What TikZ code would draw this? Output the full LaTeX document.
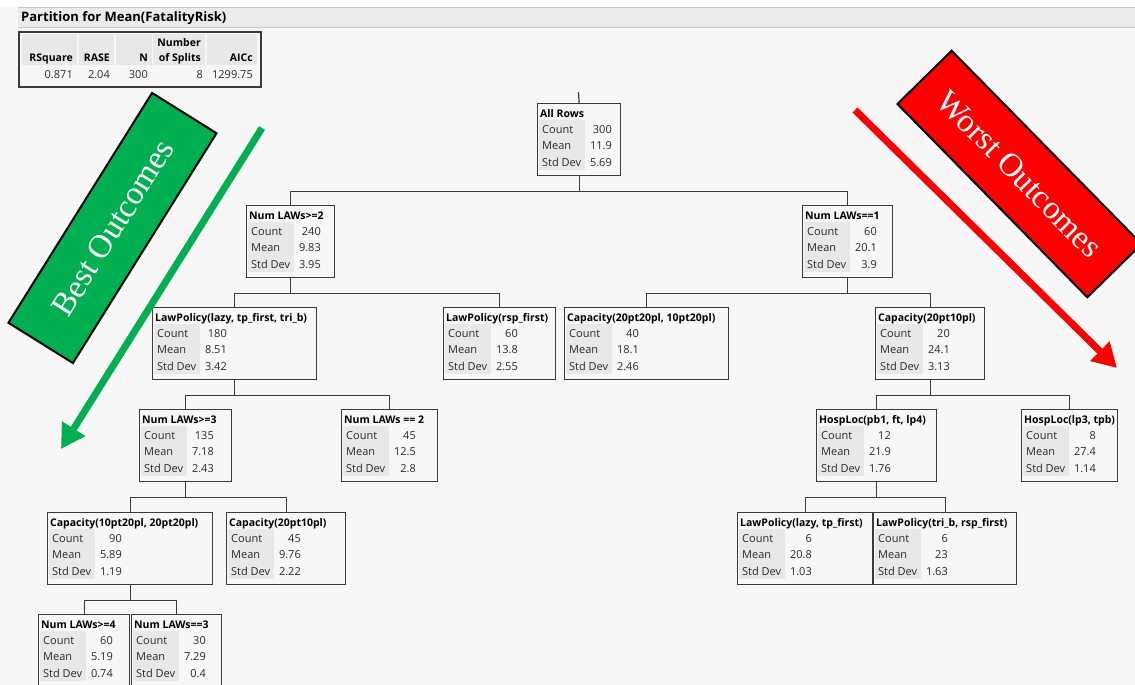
\documentclass[tikz,border=0pt]{standalone}
\usepackage{fontspec}
\setmainfont{Open Sans}
\newfontfamily\bannerfont{Liberation Serif}
\usetikzlibrary{arrows.meta}
\definecolor{bggray}{HTML}{F7F7F7}
\definecolor{cellgray}{HTML}{E8E8E8}
\definecolor{bargray}{HTML}{EBEBEB}
\definecolor{barline}{HTML}{C8C8C8}
\definecolor{boxline}{HTML}{3A3A3A}
\definecolor{textgray}{HTML}{2A2A2A}
\definecolor{bestgreen}{HTML}{00B050}
\definecolor{worstred}{HTML}{FF0000}

\tikzset{
  splitbox/.style={draw=boxline, line width=1.2pt, fill=bggray, anchor=north west,
    minimum height=72pt, inner sep=0pt},
  headtext/.style={font=\fontsize{10.5}{12}\selectfont\bfseries, anchor=base west, inner sep=0pt},
  rowtext/.style={font=\fontsize{11}{12}\selectfont, anchor=base west, inner sep=0pt, text=textgray},
  valtext/.style={rowtext, anchor=base east},
  tabhead/.style={headtext, anchor=base east},
  link/.style={draw=boxline, line width=1.2pt},
  banner/.style={draw=black, line width=2pt, text=white, inner sep=0pt,
    font=\bannerfont\fontsize{33}{33}\selectfont, minimum width=271pt, minimum height=76pt},
  bigarrow/.style={line width=7pt, -{Triangle[length=24pt,width=26pt]}},
}

% one box of the partition tree: name, x, y, width, split, count, mean, std dev
\newcommand\splitnode[8]{%
  \node[splitbox, minimum width=#4pt] (#1) at (#2,#3) {};
  \fill[cellgray] ([shift={(2,17)}]#1.north west) rectangle ++(46,50);
  \node[headtext] (#1-head) at ([shift={(3,14)}]#1.north west) {#5};
  \node[rowtext] (#1-cl) at ([shift={(5,30)}]#1.north west) {Count};
  \node[rowtext] (#1-ml) at ([shift={(5,46.5)}]#1.north west) {Mean};
  \node[rowtext] (#1-sl) at ([shift={(5,63)}]#1.north west) {Std Dev};
  \node[valtext] (#1-cv) at ([shift={(75,30)}]#1.north west) {#6};
  \node[valtext] (#1-mv) at ([shift={(75,46.5)}]#1.north west) {#7};
  \node[valtext] (#1-sv) at ([shift={(75,63)}]#1.north west) {#8};
}

\begin{document}
\begin{tikzpicture}[x=1pt, y=-1pt]
  \useasboundingbox (0,0) rectangle (1135,685);
  \fill[bggray] (0,0) rectangle (1135,685);
  \fill[white] (0,0) rectangle (1135,7);

  % title bar
  \fill[bargray] (18,7) rectangle (1135,27);
  \draw[barline] (18,7) -- (1135,7) (18,27) -- (1135,27);
  \node[headtext, font=\fontsize{13}{14}\selectfont\bfseries] (title) at (21,22) {Partition for Mean(FatalityRisk)};

  % summary table
  \draw[boxline, line width=1.2pt] (19,32) rectangle (261,87);
  \foreach \xl/\xr in {22/77, 79/114, 116/152, 153/205, 207/257}
    \fill[cellgray] (\xl,34) rectangle (\xr,65);
  \node[tabhead] (hnum) at (201,47) {Number};
  \node[tabhead] (hrsq) at (73,62) {RSquare};
  \node[tabhead] (hrase) at (110,62) {RASE};
  \node[tabhead] (hn) at (148,62) {N};
  \node[tabhead] (hsplit) at (201,62) {of Splits};
  \node[tabhead] (haicc) at (253,62) {AICc};
  \node[valtext] (vrsq) at (73,78) {0.871};
  \node[valtext] (vrase) at (110,78) {2.04};
  \node[valtext] (vn) at (148,78) {300};
  \node[valtext] (vsplit) at (203,78) {8};
  \node[valtext] (vaicc) at (253,78) {1299.75};

  % tree
  \splitnode{allrows}{537}{103}{83}{All Rows}{300}{11.9}{5.69}
  \splitnode{lawsge2}{246}{205}{88}{Num LAWs>=2}{240}{9.83}{3.95}
  \splitnode{lawseq1}{802}{205}{90}{Num LAWs==1}{60}{20.1}{3.9}
  \splitnode{polazy}{152}{307}{164}{LawPolicy(lazy, tp\_first, tri\_b)}{180}{8.51}{3.42}
  \splitnode{porsp}{443}{307}{112}{LawPolicy(rsp\_first)}{60}{13.8}{2.55}
  \splitnode{capmix}{564}{307}{164}{Capacity(20pt20pl, 10pt20pl)}{40}{18.1}{2.46}
  \splitnode{capright}{875}{307}{109}{Capacity(20pt10pl)}{20}{24.1}{3.13}
  \splitnode{lawsge3}{139}{409}{92}{Num LAWs>=3}{135}{7.18}{2.43}
  \splitnode{lawseq2}{341}{409}{96}{Num LAWs == 2}{45}{12.5}{2.8}
  \splitnode{hospa}{816}{409}{120}{HospLoc(pb1, ft, lp4)}{12}{21.9}{1.76}
  \splitnode{hospb}{1021}{409}{96}{HospLoc(lp3, tpb)}{8}{27.4}{1.14}
  \splitnode{capleft}{47}{512}{165}{Capacity(10pt20pl, 20pt20pl)}{90}{5.89}{1.19}
  \splitnode{capsmall}{226}{512}{119}{Capacity(20pt10pl)}{45}{9.76}{2.22}
  \splitnode{polazytp}{737}{512}{135}{LawPolicy(lazy, tp\_first)}{6}{20.8}{1.03}
  \splitnode{potrib}{873}{512}{143}{LawPolicy(tri\_b, rsp\_first)}{6}{23}{1.63}
  \splitnode{lawsge4}{38}{614}{91}{Num LAWs>=4}{60}{5.19}{0.74}
  \splitnode{lawseq3}{131}{614}{90}{Num LAWs==3}{30}{7.29}{0.4}

  \coordinate (rootstub) at (578.5,92);
  \draw[link] (rootstub) -- (allrows.north);
  \foreach \p/\c in {allrows/lawsge2, allrows/lawseq1, lawsge2/polazy, lawsge2/porsp,
      lawseq1/capmix, lawseq1/capright, polazy/lawsge3, polazy/lawseq2,
      capright/hospa, capright/hospb, lawsge3/capleft, lawsge3/capsmall,
      hospa/polazytp, hospa/potrib, capleft/lawsge4, capleft/lawseq3}
    \draw[link] (\p.south) -- ++(0,15) -| (\c.north);

  % outcome banners and arrows
  \node[banner, fill=bestgreen, rotate=58] (best) at (112.5,228) {Best Outcomes};
  \node[banner, fill=worstred, rotate=-45.5] (worst) at (1019.5,174) {Worst Outcomes};
  \coordinate (beststart) at (262,128);
  \coordinate (bestend) at (61,449);
  \coordinate (worststart) at (855,110);
  \coordinate (worstend) at (1117,368);
  \draw[bigarrow, bestgreen] (beststart) -- (bestend);
  \draw[bigarrow, worstred] (worststart) -- (worstend);
\end{tikzpicture}
\end{document}
